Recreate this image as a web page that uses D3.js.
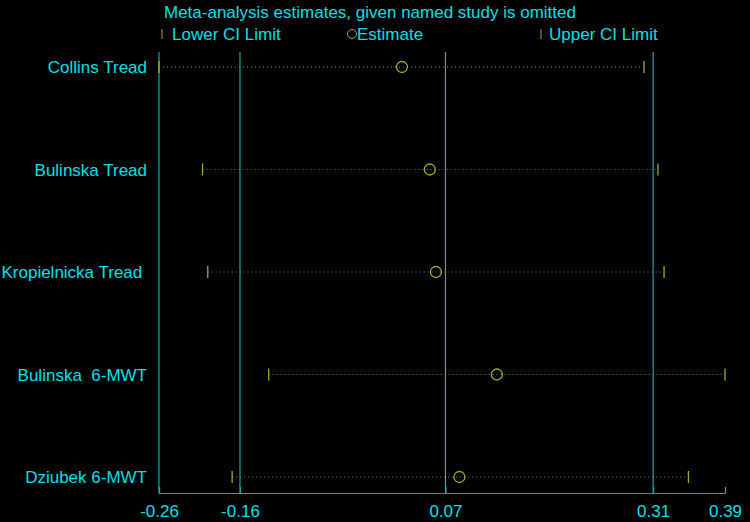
<!DOCTYPE html>
<html>
<head>
<meta charset="utf-8">
<script src="https://cdn.jsdelivr.net/npm/d3@7"></script>
<style>
  body { margin: 0; background: #000; }
  svg { display: block; font-family: "Liberation Sans", Arial, sans-serif; }
</style>
</head>
<body>
<svg id="chart"></svg>
<script>
// studies omitted, in plot order (top to bottom)
const studies = ['Collins Tread', 'Bulinska Tread', 'Kropielnicka Tread ', 'Bulinska  6-MWT', 'Dziubek 6-MWT']
const lower = [-0.260, -0.210, -0.204, -0.134, -0.176]
const estimate = [0.019, 0.051, 0.058, 0.128, 0.085]
const upper = [0.297, 0.313, 0.320, 0.390, 0.348]

// reference lines: overall lower CI, overall estimate, overall upper CI
const refValues = [-0.167, 0.069, 0.3075]
const tickValues = [-0.26, -0.167, 0.069, 0.3075, 0.39]
const tickLabels = ['-0.26', '-0.16', '0.07', '0.31', '0.39']

const width = 750, height = 522
const margin = { top: 52, right: 25, bottom: 29, left: 159 }
const cyan = '#00e0e6', teal = '#1fa3a3', olive = '#a8a82a'

const svg = d3.select('#chart').attr('width', width).attr('height', height)

const x = d3.scaleLinear().domain([-0.26, 0.39]).range([margin.left, width - margin.right])
const y = d3.scalePoint().domain(studies).range([67, 477])
const axisY = height - margin.bottom

// title + legend
svg.append('text').attr('x', 164).attr('y', 18).attr('fill', cyan)
    .style('font-size', '17px').text('Meta-analysis estimates, given named study is omitted')

const legend = svg.append('g').attr('transform', 'translate(0,34)')
legend.append('line').attr('x1', 162).attr('x2', 162).attr('y1', -5).attr('y2', 5).attr('stroke', olive)
legend.append('text').attr('x', 172).attr('y', 6).attr('fill', cyan).style('font-size', '17px').text('Lower CI Limit')
legend.append('circle').attr('cx', 352).attr('cy', 0).attr('r', 4.5).attr('fill', 'none').attr('stroke', olive)
legend.append('text').attr('x', 357).attr('y', 6).attr('fill', cyan).style('font-size', '17px').text('Estimate')
legend.append('line').attr('x1', 541).attr('x2', 541).attr('y1', -5).attr('y2', 5).attr('stroke', olive)
legend.append('text').attr('x', 549).attr('y', 6).attr('fill', cyan).style('font-size', '17px').text('Upper CI Limit')

// left border and reference lines
svg.append('line').attr('x1', x(-0.26)).attr('x2', x(-0.26))
    .attr('y1', margin.top).attr('y2', axisY).attr('stroke', teal).attr('stroke-width', 1.2)

svg.selectAll('.ref')
    .data(refValues)
    .join('line')
    .attr('class', 'ref')
    .attr('x1', d => x(d)).attr('x2', d => x(d))
    .attr('y1', margin.top).attr('y2', axisY)
    .attr('stroke', (d, i) => i === 1 ? '#5f9c9c' : teal)
    .attr('stroke-width', 1.2)

// x axis
const xAxis = d3.axisBottom(x)
    .tickValues(tickValues)
    .tickFormat((d, i) => tickLabels[i])
    .tickSize(-6)
    .tickPadding(12)

const xAxisGroup = svg.append('g')
    .attr('transform', `translate(0, ${axisY})`)
    .call(xAxis)
xAxisGroup.select('.domain').attr('stroke', teal).attr('stroke-width', 1.2)
xAxisGroup.selectAll('.tick line').attr('stroke', teal).attr('stroke-width', 1.2)
xAxisGroup.selectAll('.tick text').attr('fill', cyan).style('font-size', '17px')
    .attr('font-family', '"Liberation Sans", Arial, sans-serif')

// study labels
svg.selectAll('.label')
    .data(studies)
    .join('text')
    .attr('class', 'label')
    .attr('x', 147)
    .attr('y', d => y(d) + 6)
    .attr('text-anchor', 'end')
    .attr('fill', cyan)
    .style('font-size', '17px')
    .style('white-space', 'pre')
    .text(d => d)

const rows = studies.map((s, i) => ({ s, lo: lower[i], est: estimate[i], hi: upper[i] }))

// dotted CI lines
svg.selectAll('.ci')
    .data(rows)
    .join('line')
    .attr('class', 'ci')
    .attr('x1', d => x(d.lo)).attr('x2', d => x(d.hi))
    .attr('y1', d => y(d.s)).attr('y2', d => y(d.s))
    .attr('stroke', '#5f8f8f')
    .attr('stroke-width', 1)
    .attr('stroke-dasharray', '1,3')

// CI limit ticks
svg.selectAll('.lo')
    .data(rows)
    .join('line')
    .attr('class', 'lo')
    .attr('x1', d => x(d.lo)).attr('x2', d => x(d.lo))
    .attr('y1', d => y(d.s) - 6).attr('y2', d => y(d.s) + 6)
    .attr('stroke', olive).attr('stroke-width', 1.3)

svg.selectAll('.hi')
    .data(rows)
    .join('line')
    .attr('class', 'hi')
    .attr('x1', d => x(d.hi)).attr('x2', d => x(d.hi))
    .attr('y1', d => y(d.s) - 6).attr('y2', d => y(d.s) + 6)
    .attr('stroke', olive).attr('stroke-width', 1.3)

// estimates
svg.selectAll('.est')
    .data(rows)
    .join('circle')
    .attr('class', 'est')
    .attr('cx', d => x(d.est))
    .attr('cy', d => y(d.s))
    .attr('r', 5.5)
    .attr('fill', 'none')
    .attr('stroke', olive)
    .attr('stroke-width', 1.3)
</script>
</body>
</html>
